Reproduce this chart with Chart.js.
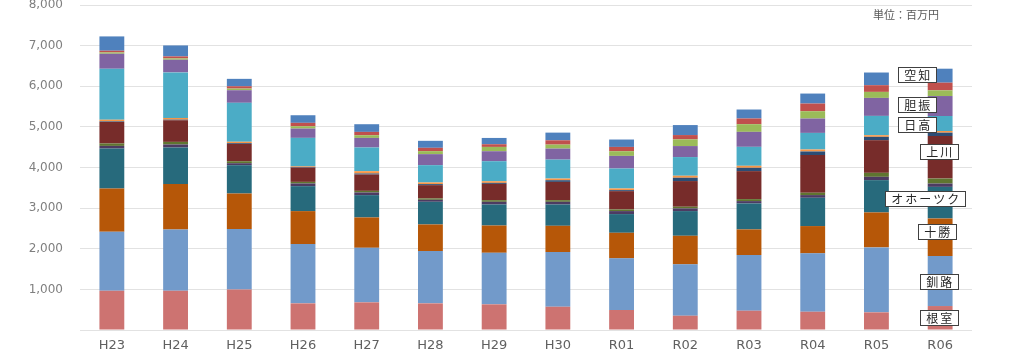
<!DOCTYPE html>
<html lang="ja">
<head>
<meta charset="utf-8">
<script src="https://cdn.jsdelivr.net/npm/chart.js@4.4.1/dist/chart.umd.min.js"></script>
<style>
  body { margin: 0; background: #fff; }
  #wrap { position: relative; width: 1024px; height: 360px; }
  #unit {
    position: absolute; left: 873px; top: 6px;
    font: 11px "Noto Sans CJK JP", sans-serif; color: #595959;
  }
</style>
</head>
<body>
<div id="wrap">
  <canvas id="grafico"></canvas>
  <div id="unit">単位：百万円</div>
</div>
<script>
// 年度
var anos = ['H23', 'H24', 'H25', 'H26', 'H27', 'H28', 'H29', 'H30', 'R01', 'R02', 'R03', 'R04', 'R05', 'R06'];

// 振興局別 (下から順に積み上げ) 単位: 百万円
var nemuro   = [967, 967, 1000, 656, 681, 656, 632, 573, 492, 352, 475, 450, 435, 590];
var kushiro  = [1451, 1510, 1484, 1459, 1343, 1287, 1269, 1346, 1272, 1264, 1370, 1437, 1599, 1230];
var tokachi  = [1067, 1115, 877, 812, 748, 656, 672, 647, 630, 704, 632, 672, 861, 927];
var okhotsk  = [984, 902, 697, 615, 549, 558, 517, 524, 460, 608, 640, 697, 795, 777];
var soya     = [64, 74, 49, 66, 66, 49, 66, 66, 74, 66, 57, 66, 82, 82];
var rumoi    = [59, 64, 49, 39, 39, 33, 41, 41, 41, 41, 49, 57, 98, 123];
var kamikawa = [531, 533, 426, 354, 403, 328, 401, 450, 450, 632, 689, 927, 804, 1048];
var hiyama   = [15, 15, 20, 15, 25, 25, 25, 41, 25, 82, 82, 90, 82, 82];
var oshima   = [40, 41, 33, 16, 57, 41, 41, 41, 41, 49, 49, 49, 41, 41];
var hidaka   = [1255, 1122, 959, 699, 583, 426, 492, 467, 492, 460, 467, 408, 475, 369];
var iburi    = [369, 312, 310, 229, 236, 271, 246, 271, 310, 271, 369, 354, 443, 492];
var shiribeshi = [33, 33, 41, 57, 66, 74, 106, 98, 115, 165, 189, 180, 148, 140];
var ishikari = [42, 49, 57, 84, 82, 82, 66, 106, 106, 106, 140, 189, 165, 189];
var sorachi  = [352, 270, 182, 187, 189, 172, 155, 189, 182, 246, 221, 246, 312, 344];

var series = [
  { label: '根室', data: nemuro, cor: '#CD7371', etiqueta: true, dx: -1, dy: 0 },
  { label: '釧路', data: kushiro, cor: '#729ACA', etiqueta: true, dx: -1, dy: 0 },
  { label: '十勝', data: tokachi, cor: '#B65708', etiqueta: true, dx: -3, dy: -6 },
  { label: 'オホーツク', data: okhotsk, cor: '#276A7C', etiqueta: true, dx: -15, dy: -4 },
  { label: '宗谷', data: soya, cor: '#4D3B62' },
  { label: '留萌', data: rumoi, cor: '#5F7530' },
  { label: '上川', data: kamikawa, cor: '#772C2A', etiqueta: true, dx: -1, dy: -6 },
  { label: '檜山', data: hiyama, cor: '#2C4D75' },
  { label: '渡島', data: oshima, cor: '#F79646' },
  { label: '日高', data: hidaka, cor: '#4BACC6', etiqueta: true, dx: -23, dy: 1 },
  { label: '胆振', data: iburi, cor: '#8064A2', etiqueta: true, dx: -23, dy: -2 },
  { label: '後志', data: shiribeshi, cor: '#9BBB59' },
  { label: '石狩', data: ishikari, cor: '#C0504D' },
  { label: '空知', data: sorachi, cor: '#4F81BD', etiqueta: true, dx: -23, dy: -1 }
];

var datasets = series.map(function(s) {
  return {
    label: s.label,
    data: s.data,
    backgroundColor: s.cor,
    borderWidth: 0,
    categoryPercentage: 1,
    barPercentage: 0.39
  };
});

// ラベル枠 (最後の棒の横)
var etiquetasPlugin = {
  id: 'etiquetas',
  afterDatasetsDraw: function(chart) {
    var ctx = chart.ctx;
    var ultimo = anos.length - 1;
    ctx.save();
    ctx.font = '12px "Noto Sans CJK JP", sans-serif';
    ctx.letterSpacing = '2px';
    ctx.textAlign = 'center';
    ctx.textBaseline = 'middle';
    series.forEach(function(s, i) {
      if (!s.etiqueta) return;
      var barra = chart.getDatasetMeta(i).data[ultimo];
      var cx = barra.x + s.dx;
      var cy = (barra.y + barra.base) / 2 + s.dy;
      var w = ctx.measureText(s.label).width + 10;
      var h = 15;
      ctx.fillStyle = '#ffffff';
      ctx.fillRect(Math.round(cx - w / 2) + 0.5, Math.round(cy - h / 2) + 0.5, Math.round(w), h);
      ctx.strokeStyle = '#404040';
      ctx.lineWidth = 1;
      ctx.strokeRect(Math.round(cx - w / 2) + 0.5, Math.round(cy - h / 2) + 0.5, Math.round(w), h);
      ctx.fillStyle = '#262626';
      ctx.fillText(s.label, cx + 1, cy + 1);
    });
    ctx.restore();
  }
};

var ctx = document.getElementById('grafico').getContext('2d');

var myChart = new Chart(ctx, {
  type: 'bar',
  data: { labels: anos, datasets: datasets },
  options: {
    responsive: true,
    maintainAspectRatio: false,
    animation: false,
    layout: { padding: { top: 0, right: 52, bottom: 0, left: 0 } },
    plugins: {
      legend: { display: false },
      tooltip: { enabled: false }
    },
    scales: {
      x: {
        stacked: true,
        grid: { display: false, drawTicks: false },
        border: { display: false },
        ticks: {
          color: '#606060',
          padding: 8,
          font: { family: 'DejaVu Sans', size: 13 }
        },
        afterFit: function(s) { s.height = 30; }
      },
      y: {
        stacked: true,
        min: 0,
        max: 8000,
        grid: { color: '#e2e2e2', drawTicks: true, tickLength: 17, tickColor: 'rgba(0,0,0,0)' },
        border: { display: false },
        ticks: {
          stepSize: 1000,
          color: '#7f7f7f',
          padding: 0,
          font: { family: 'DejaVu Sans', size: 12, lineHeight: 0.85 },
          callback: function(v) { return v === 0 ? '' : v.toLocaleString('en-US'); }
        },
        afterFit: function(s) { s.width = 80; }
      }
    }
  },
  plugins: [etiquetasPlugin]
});
</script>
</body>
</html>
